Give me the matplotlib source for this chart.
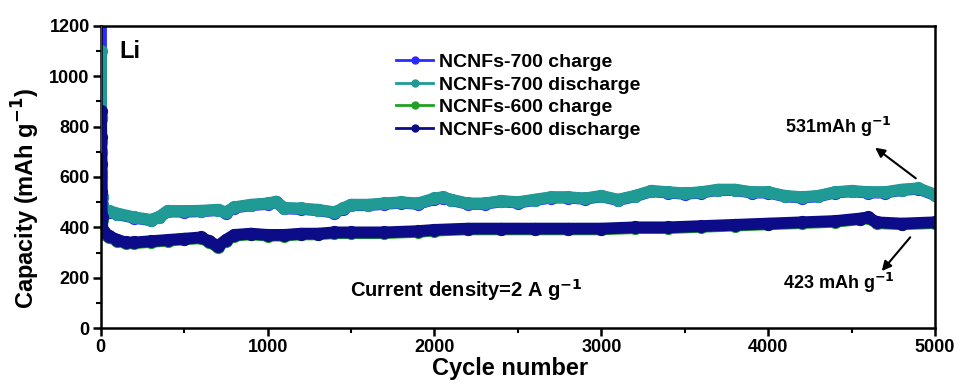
import numpy as np
import matplotlib
matplotlib.use('Agg')
import matplotlib.pyplot as plt
from matplotlib.lines import Line2D
from matplotlib.ticker import MultipleLocator

plt.rcParams['font.family'] = ['Liberation Sans', 'DejaVu Sans']
plt.rcParams['font.weight'] = 'bold'
plt.rcParams['mathtext.default'] = 'bf'

# values (cycle number, capacity mAh/g)
cyc_700 = [1, 2, 3, 4, 6, 10, 20, 50, 100, 200, 300, 350, 400, 500, 600, 700, 750, 800,
           900, 1000, 1050, 1100, 1200, 1300, 1400, 1450, 1500, 1600, 1700, 1800, 1900,
           2000, 2050, 2100, 2200, 2300, 2400, 2500, 2600, 2700, 2800, 2900, 3000, 3100,
           3200, 3300, 3400, 3500, 3600, 3700, 3800, 3900, 4000, 4100, 4200, 4300, 4400,
           4500, 4600, 4700, 4800, 4900, 5000]
charge_700 = [1250, 840, 700, 600, 520, 490, 470, 462, 452, 438, 428, 440, 463, 462, 464,
              468, 458, 478, 488, 493, 500, 475, 473, 468, 458, 472, 488, 488, 493, 498,
              493, 512, 518, 508, 493, 493, 503, 498, 508, 518, 518, 513, 523, 508, 523,
              543, 538, 533, 538, 548, 548, 538, 538, 523, 518, 523, 538, 543, 538, 538,
              548, 553, 528]
discharge_700 = [1100, 840, 700, 600, 520, 490, 470, 465, 455, 440, 430, 442, 465, 465, 466,
                 470, 460, 480, 490, 495, 502, 477, 475, 470, 460, 475, 490, 490, 495, 500,
                 495, 515, 520, 510, 495, 495, 505, 500, 510, 520, 520, 515, 525, 510, 525,
                 545, 540, 535, 540, 550, 550, 540, 540, 525, 520, 525, 540, 545, 540, 540,
                 550, 555, 530]

cyc_600 = [1, 2, 3, 4, 6, 10, 20, 50, 100, 150, 200, 300, 400, 500, 600, 650, 700, 750,
           800, 900, 1000, 1100, 1200, 1300, 1400, 1500, 1700, 1900, 2000, 2200, 2400,
           2600, 2800, 3000, 3200, 3400, 3600, 3800, 4000, 4200, 4400, 4550, 4600, 4650,
           4800, 5000]
charge_600 = [830, 740, 620, 520, 430, 385, 372, 360, 347, 337, 337, 342, 347, 352, 357,
              342, 322, 347, 367, 372, 367, 367, 372, 372, 377, 377, 377, 382, 387, 392,
              392, 392, 392, 392, 397, 397, 402, 407, 412, 417, 422, 432, 437, 417, 412,
              417]
discharge_600 = [860, 760, 650, 540, 440, 390, 380, 365, 350, 340, 340, 345, 350, 355, 360,
                 345, 325, 350, 370, 375, 370, 370, 375, 375, 380, 380, 380, 385, 390, 395,
                 395, 395, 395, 395, 400, 400, 405, 410, 415, 420, 425, 435, 440, 420, 415,
                 420]

labels = ['NCNFs-700 charge', 'NCNFs-700 discharge', 'NCNFs-600 charge', 'NCNFs-600 discharge']
colors = ['#2a2aff', '#1f9a94', '#22a022', '#0c0c88']

fig = plt.figure(figsize=(9.6, 3.86), dpi=100)
ax = fig.add_axes([0.105, 0.150, 0.869, 0.783])

series = [(cyc_700, charge_700), (cyc_700, discharge_700),
          (cyc_600, charge_600), (cyc_600, discharge_600)]
for (x, y), c in zip(series, colors):
    ax.plot(x, y, color=c, lw=8.5, solid_capstyle='round', solid_joinstyle='round', zorder=2)
    ax.plot(x, y, 'o', color=c, ms=8.5, zorder=2)
# thin first-cycle line up the axis
ax.plot(cyc_700[:3], charge_700[:3], color=colors[0], lw=1.5, zorder=3)

ax.set_xlim(0, 5000)
ax.set_ylim(0, 1200)
ax.xaxis.set_major_locator(MultipleLocator(1000))
ax.xaxis.set_minor_locator(MultipleLocator(500))
ax.yaxis.set_major_locator(MultipleLocator(200))
ax.yaxis.set_minor_locator(MultipleLocator(100))
ax.tick_params(which='major', direction='out', length=6, width=1.8, labelsize=13, pad=2)
ax.tick_params(which='minor', direction='out', length=3.5, width=1.5)
ax.tick_params(top=False, right=False)
for s in ax.spines.values():
    s.set_linewidth(1.8)

ax.set_xlabel('Cycle number', fontsize=17, fontweight='bold')
ax.set_ylabel('Capacity (mAh g$^{-1}$)', fontsize=17, fontweight='bold')
ax.xaxis.set_label_coords(0.49, -0.095)
ax.yaxis.set_label_coords(-0.071, 0.43)

ax.text(114, 1097, 'Li', fontsize=17, fontweight='bold', va='center')
ax.text(1493, 151, 'Current density=2 A g$^{-1}$', fontsize=14.5, fontweight='bold', va='center')
ax.text(4100, 799, '531mAh g$^{-1}$', fontsize=13, fontweight='bold', va='center')
ax.text(4090, 179, '423 mAh g$^{-1}$', fontsize=13, fontweight='bold', va='center')
ax.annotate('', xy=(4628, 723), xytext=(4898, 588),
            arrowprops=dict(arrowstyle='-|>', color='black', lw=1.5, mutation_scale=14))
ax.annotate('', xy=(4670, 218), xytext=(4862, 369),
            arrowprops=dict(arrowstyle='-|>', color='black', lw=1.5, mutation_scale=14))

handles = [Line2D([0], [0], color=c, lw=2, marker='o', ms=5) for c in colors]
ax.legend(handles, labels, loc='upper left', bbox_to_anchor=(0.345, 0.935), frameon=False,
          prop={'size': 14, 'weight': 'bold'}, handlelength=1.9, handletextpad=0.3,
          labelspacing=0.26, borderaxespad=0)

fig.savefig('out.png', dpi=100)
